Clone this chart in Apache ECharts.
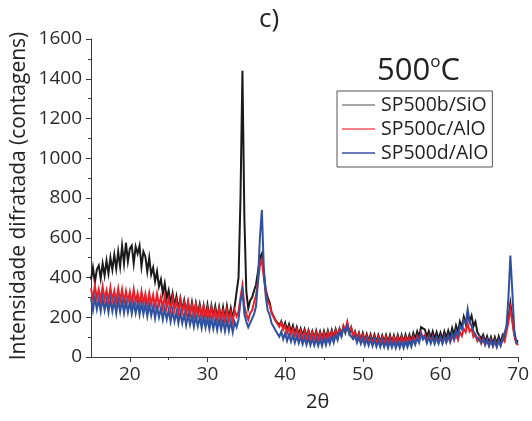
<!DOCTYPE html>
<html><head><meta charset="utf-8">
<script src="https://cdn.jsdelivr.net/npm/echarts@6/dist/echarts.min.js"></script>
<style>html,body{margin:0;padding:0;background:#fff}#c{width:532px;height:421px}</style>
</head><body><div id="c"></div>
<script>
const twoTheta = [
15,15.25,15.5,15.75,16,16.25,16.5,16.75,17,17.25,17.5,17.75,18,18.25,18.5,18.75,19,19.25,19.5,19.75,
20,20.25,20.5,20.75,21,21.25,21.5,21.75,22,22.25,22.5,22.75,23,23.25,23.5,23.75,24,24.25,24.5,24.75,
25,25.25,25.5,25.75,26,26.25,26.5,26.75,27,27.25,27.5,27.75,28,28.25,28.5,28.75,29,29.25,29.5,29.75,
30,30.25,30.5,30.75,31,31.25,31.5,31.75,32,32.25,32.5,32.75,33,33.25,33.5,33.75,34,34.25,34.5,34.75,
35,35.25,35.5,35.75,36,36.25,36.5,36.75,37,37.25,37.5,37.75,38,38.25,38.5,38.75,39,39.25,39.5,39.75,
40,40.25,40.5,40.75,41,41.25,41.5,41.75,42,42.25,42.5,42.75,43,43.25,43.5,43.75,44,44.25,44.5,44.75,
45,45.25,45.5,45.75,46,46.25,46.5,46.75,47,47.25,47.5,47.75,48,48.25,48.5,48.75,49,49.25,49.5,49.75,
50,50.25,50.5,50.75,51,51.25,51.5,51.75,52,52.25,52.5,52.75,53,53.25,53.5,53.75,54,54.25,54.5,54.75,
55,55.25,55.5,55.75,56,56.25,56.5,56.75,57,57.25,57.5,57.75,58,58.25,58.5,58.75,59,59.25,59.5,59.75,
60,60.25,60.5,60.75,61,61.25,61.5,61.75,62,62.25,62.5,62.75,63,63.25,63.5,63.75,64,64.25,64.5,64.75,
65,65.25,65.5,65.75,66,66.25,66.5,66.75,67,67.25,67.5,67.75,68,68.25,68.5,68.75,69,69.25,69.5,69.75,
70];

const sp500b_SiO = [
390,450,375,440, 460,395,470,410, 485,420,500,440, 515,445,530,455, 560,470,575,480,
545,560,470,555, 520,560,455,530, 505,430,500,415, 450,380,430,355, 390,320,370,295,
335,270,320,255, 305,240,295,235, 285,225,275,215, 275,212,268,215, 265,205,258,200,
262,198,258,205, 255,195,250,190, 250,190,255,195, 245,190,255,260, 400,800,1440,700,
330,245,285,300, 335,365,430,495, 520,425,340,300, 275,225,220,185, 195,160,180,145,
172,135,165,128, 158,118,150,112, 142,108,140,102, 135,98,130,96, 132,92,128,92,
130,94,132,96, 135,100,140,106, 142,112,152,122, 160,118,148,106, 128,92,122,86,
120,82,115,80, 114,78,112,76, 110,74,108,76, 110,74,110,74, 108,72,110,76,
110,75,112,78, 112,80,120,90, 128,100,150,140, 138,100,130,95, 128,90,125,90,
122,88,128,95, 132,100,145,110, 158,125,178,150, 202,165,215,180, 208,155,178,125,
130,92,112,76, 104,70,100,68, 100,68,104,72, 110,92,150,195, 270,195,118,82,
80];

const sp500c_AlO = [
345,290,360,295, 340,285,355,290, 335,282,350,285, 332,278,345,282, 340,275,332,280,
328,270,340,275, 322,265,330,268, 318,260,322,262, 312,255,318,258, 302,245,308,248,
292,235,298,238, 282,225,288,228, 272,218,278,220, 262,208,268,210, 252,200,258,200,
246,195,250,196, 238,188,242,188, 232,182,238,184, 226,178,235,205, 230,300,360,255,
215,188,222,235, 275,310,380,460, 490,400,325,280, 262,222,220,182, 190,152,175,138,
158,120,150,114, 142,106,138,102, 132,96,128,94, 126,90,122,90, 122,86,120,88,
120,86,124,90, 126,92,134,102, 140,110,158,135, 178,132,148,108, 124,86,116,80,
110,76,106,72, 104,70,100,68, 100,66,98,66, 100,66,98,68, 100,66,100,68,
100,68,100,70, 100,70,102,76, 106,82,122,98, 112,80,106,76, 104,72,100,72,
100,70,102,74, 104,76,110,84, 114,86,125,105, 142,125,170,128, 142,100,112,80,
100,68,92,62, 88,58,85,56, 84,54,84,58, 92,78,128,175, 245,175,108,68,
60];

const sp500d_AlO = [
295,235,300,240, 290,230,295,235, 285,225,290,230, 282,220,288,228, 285,222,280,225,
278,218,275,220, 272,212,270,215, 266,205,264,208, 256,195,254,200, 246,188,244,190,
236,178,234,180, 226,170,224,170, 216,160,214,162, 206,152,206,155, 200,145,198,148,
195,140,194,142, 190,135,188,138, 185,130,184,132, 180,125,176,150, 190,280,330,215,
178,150,172,175, 215,255,380,600, 740,450,305,235, 212,170,170,135, 140,102,128,90,
120,82,115,78, 110,72,106,70, 102,65,98,62, 96,60,92,58, 92,56,90,56,
94,60,96,66, 104,72,112,85, 128,102,145,128, 160,118,128,90, 106,72,100,66,
92,60,90,58, 88,55,86,52, 82,50,82,50, 78,46,80,48, 78,45,78,46,
78,46,80,50, 82,52,88,62, 96,72,115,88, 102,70,100,68, 98,66,98,68,
98,68,102,74, 108,78,118,90, 132,105,155,140, 185,170,240,180, 182,130,135,95,
105,72,95,62, 86,55,84,54, 80,50,84,58, 90,80,155,300, 510,330,138,75,
70];

const seriesNames = ['SP500b/SiO','SP500c/AlO','SP500d/AlO'];
const xMajor = [20,30,40,50,60,70];
const xMinor = [25,35,45,55,65];

function pairs(ys){ return twoTheta.map((x,i)=>[x, ys[i]]); }

const FONT = 'Open Sans';
const chart = echarts.init(document.getElementById('c'), null, {renderer:'canvas'});
const axisCol = '#3a3a3a';
const LW = 2;
chart.setOption({
  animation:false,
  backgroundColor:'#fff',
  grid:{left:91,right:13,top:39,bottom:64,containLabel:false},
  xAxis:[{
    type:'value',min:15,max:70,
    axisLine:{show:true,onZero:false,lineStyle:{color:axisCol,width:1}},
    axisTick:{show:true,inside:false,length:5,customValues:xMajor,lineStyle:{color:axisCol}},
    axisLabel:{show:true,customValues:xMajor,margin:8,fontSize:19,color:'#2a2a2a',fontFamily:FONT},
    splitLine:{show:false}
  },{
    type:'value',min:15,max:70,gridIndex:0,position:'bottom',
    axisLine:{show:false},
    axisTick:{show:true,inside:false,length:3,customValues:xMinor,lineStyle:{color:axisCol}},
    axisLabel:{show:false},
    splitLine:{show:false}
  }],
  yAxis:{
    type:'value',min:0,max:1600,interval:200,
    axisLine:{show:true,lineStyle:{color:axisCol,width:1}},
    axisTick:{show:true,inside:false,length:5,lineStyle:{color:axisCol}},
    minorTick:{show:true,splitNumber:2,length:3,lineStyle:{color:axisCol}},
    axisLabel:{margin:9,fontSize:19,color:'#2a2a2a',fontFamily:FONT,formatter:function(v){return String(v);}},
    splitLine:{show:false}
  },
  legend:{
    orient:'vertical',left:337,top:91,
    padding:[3,4,3,5],itemGap:2,itemWidth:33,itemHeight:1.5,
    borderColor:'#555',borderWidth:1,
    icon:'rect',
    textStyle:{fontSize:19.5,lineHeight:22,color:'#222',fontFamily:FONT,padding:[0,0,0,1]},
    data:[
      {name:seriesNames[0],itemStyle:{color:'#8a8a8a'}},
      {name:seriesNames[1],itemStyle:{color:'#f2555f'}},
      {name:seriesNames[2],itemStyle:{color:'#3a4fa0'}}
    ]
  },
  graphic:[
    {type:'text',left:259,top:7,style:{text:'c)',fontSize:26,fill:'#222',fontFamily:FONT}},
    {type:'text',left:377,top:54,style:{text:'500{s|o}C',fontSize:31,fill:'#222',fontFamily:FONT,
      rich:{s:{fontSize:17,verticalAlign:'top',fill:'#222',fontFamily:FONT,padding:[0,0,17,0]}}}},
    {type:'text',left:306,top:392,style:{text:'2θ',fontSize:20,fill:'#222',fontFamily:FONT}},
    {type:'text',x:19,y:196,rotation:Math.PI/2,style:{text:'Intensidade difratada (contagens)',fontSize:21,fill:'#222',fontFamily:FONT,align:'center',verticalAlign:'middle'}}
  ],
  series:[
    {name:seriesNames[0],type:'line',data:pairs(sp500b_SiO),showSymbol:false,symbol:'none',lineStyle:{color:'#1a1a1a',width:LW,join:'miter'},itemStyle:{color:'#1a1a1a'},z:2},
    {name:seriesNames[1],type:'line',data:pairs(sp500c_AlO),showSymbol:false,symbol:'none',lineStyle:{color:'#e8202a',width:LW,join:'miter'},itemStyle:{color:'#e8202a'},z:3},
    {name:seriesNames[2],type:'line',data:pairs(sp500d_AlO),showSymbol:false,symbol:'none',lineStyle:{color:'#3050a0',width:LW,join:'miter'},itemStyle:{color:'#3050a0'},z:4}
  ]
});
</script></body></html>
